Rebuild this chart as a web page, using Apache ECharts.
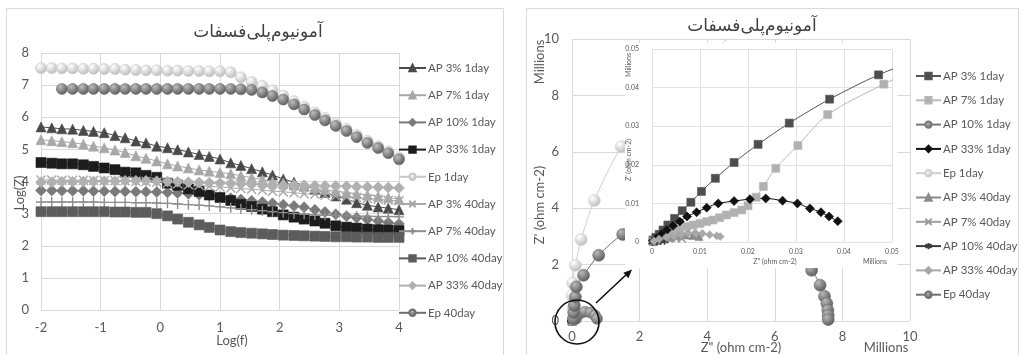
<!DOCTYPE html>
<html>
<head>
<meta charset="utf-8">
<script src="https://cdn.jsdelivr.net/npm/echarts/dist/echarts.min.js"></script>
<style>
  html, body { margin: 0; padding: 0; background: #fff; }
  #main { width: 1024px; height: 355px; }
</style>
</head>
<body>
<div id="main"></div>
<script>
// ---- left: Bode plot, Log(Z) against Log(f) ----
var logF = [-2, -1.82, -1.65, -1.47, -1.29, -1.12, -0.94, -0.76, -0.59, -0.41, -0.24, -0.06,
  0.12, 0.29, 0.47, 0.65, 0.82, 1.0, 1.18, 1.35, 1.53, 1.71, 1.88, 2.06, 2.24, 2.41, 2.59,
  2.76, 2.94, 3.12, 3.29, 3.47, 3.65, 3.82, 4.0];

var bodeAP3_1 = [5.70, 5.67, 5.64, 5.63, 5.59, 5.56, 5.52, 5.43, 5.36, 5.26, 5.20, 5.10, 5.05, 4.99, 4.92, 4.84, 4.78, 4.70,
  4.58, 4.50, 4.40, 4.30, 4.20, 4.08, 3.98, 3.87, 3.77, 3.66, 3.55, 3.45, 3.34, 3.26, 3.21, 3.17, 3.12];
var bodeAP7_1 = [5.30, 5.27, 5.24, 5.21, 5.16, 5.10, 5.05, 4.98, 4.90, 4.80, 4.72, 4.64, 4.55, 4.48, 4.42, 4.36, 4.32, 4.28,
  4.24, 4.18, 4.12, 4.06, 4.00, 3.95, 3.90, 3.85, 3.80, 3.75, 3.70, 3.66, 3.62, 3.58, 3.54, 3.50, 3.45];
var bodeAP10_1 = [3.72, 3.72, 3.71, 3.71, 3.71, 3.70, 3.70, 3.69, 3.69, 3.68, 3.68, 3.67, 3.66, 3.64, 3.62, 3.59, 3.56, 3.52,
  3.48, 3.44, 3.40, 3.36, 3.32, 3.28, 3.24, 3.20, 3.12, 3.05, 2.98, 2.92, 2.87, 2.82, 2.77, 2.72, 2.68];
var bodeAP33_1 = [4.59, 4.57, 4.55, 4.55, 4.52, 4.47, 4.42, 4.37, 4.29, 4.27, 4.19, 4.13, 3.95, 3.88, 3.77, 3.69, 3.58, 3.50,
  3.41, 3.29, 3.22, 3.14, 3.06, 2.96, 2.89, 2.83, 2.77, 2.70, 2.62, 2.58, 2.55, 2.52, 2.50, 2.49, 2.47];
var bodeEp_1 = [7.53, 7.53, 7.52, 7.52, 7.51, 7.51, 7.50, 7.50, 7.48, 7.47, 7.46, 7.46, 7.45, 7.45, 7.44, 7.44, 7.43, 7.43,
  7.40, 7.24, 7.10, 6.98, 6.84, 6.68, 6.50, 6.33, 6.15, 5.98, 5.80, 5.64, 5.45, 5.27, 5.10, 4.94, 4.75];
var bodeAP3_40 = [4.05, 4.05, 4.04, 4.04, 4.04, 4.03, 4.03, 4.02, 4.02, 4.01, 4.00, 3.98, 3.95, 3.93, 3.90, 3.88, 3.85, 3.83,
  3.80, 3.78, 3.76, 3.73, 3.70, 3.68, 3.65, 3.62, 3.60, 3.57, 3.55, 3.52, 3.50, 3.47, 3.45, 3.42, 3.40];
var bodeAP7_40 = [3.36, 3.36, 3.36, 3.36, 3.36, 3.36, 3.35, 3.35, 3.35, 3.34, 3.34, 3.33, 3.32, 3.30, 3.28, 3.26, 3.24, 3.21,
  3.18, 3.15, 3.12, 3.09, 3.06, 3.03, 3.00, 2.98, 2.96, 2.95, 2.94, 2.93, 2.92, 2.92, 2.91, 2.91, 2.90];
var bodeAP10_40 = [3.06, 3.06, 3.06, 3.06, 3.06, 3.06, 3.06, 3.05, 3.05, 3.04, 3.04, 3.00, 2.93, 2.83, 2.73, 2.65, 2.57, 2.49,
  2.44, 2.41, 2.39, 2.37, 2.35, 2.33, 2.32, 2.31, 2.30, 2.29, 2.28, 2.28, 2.27, 2.27, 2.26, 2.26, 2.26];
var bodeAP33_40 = [3.98, 3.98, 3.99, 3.99, 4.00, 4.00, 4.01, 4.01, 4.02, 4.02, 4.02, 4.01, 4.00, 3.99, 3.98, 3.97, 3.96, 3.95,
  3.94, 3.93, 3.92, 3.91, 3.90, 3.89, 3.88, 3.88, 3.87, 3.86, 3.86, 3.85, 3.84, 3.83, 3.82, 3.81, 3.80];
var bodeEp_40 = [null, null, 6.88, 6.88, 6.88, 6.88, 6.88, 6.88, 6.88, 6.88, 6.88, 6.88, 6.88, 6.88, 6.88, 6.88, 6.88, 6.88,
  6.88, 6.87, 6.85, 6.77, 6.66, 6.55, 6.40, 6.24, 6.07, 5.90, 5.73, 5.57, 5.38, 5.20, 5.04, 4.88, 4.69];

// ---- right: Nyquist plot, values in Millions [Z", Z'] ----
var nyqAP3_1 = [[0.0002, 0.0005], [0.0008, 0.0012], [0.0015, 0.002], [0.0023, 0.0031], [0.0033, 0.0044], [0.0047, 0.0061],
  [0.0063, 0.0081], [0.0081, 0.0103], [0.0103, 0.0131], [0.0132, 0.0165], [0.0171, 0.0206], [0.0221, 0.0253],
  [0.0286, 0.0308], [0.037, 0.037], [0.0472, 0.0433], [0.059, 0.049]];
var nyqAP7_1 = [[0.0006, 0.0003], [0.0016, 0.001], [0.003, 0.0018], [0.0044, 0.0027], [0.0058, 0.0033], [0.0072, 0.004],
  [0.0086, 0.0044], [0.01, 0.0048], [0.0114, 0.0053], [0.0127, 0.0057], [0.0141, 0.0063], [0.0155, 0.007],
  [0.0171, 0.0076], [0.0187, 0.0083], [0.02, 0.0094], [0.0217, 0.0116], [0.0232, 0.0144], [0.0258, 0.0191],
  [0.0304, 0.025], [0.0366, 0.033], [0.0483, 0.0409], [0.057, 0.046]];
var nyqAP10_1 = [[0.12, 0.08], [0.22, 0.25], [0.38, 0.33], [0.55, 0.3], [0.68, 0.2], [0.74, 0.08]];
var nyqAP33_1 = [[0.0002, 0.0003], [0.0009, 0.001], [0.002, 0.002], [0.0031, 0.0031], [0.0044, 0.0042], [0.0058, 0.0053],
  [0.0073, 0.0066], [0.0093, 0.0077], [0.0114, 0.0089], [0.0138, 0.01], [0.0171, 0.0106], [0.0204, 0.0111],
  [0.0237, 0.0113], [0.0272, 0.0107], [0.0303, 0.01], [0.0329, 0.0087], [0.0352, 0.0077], [0.0369, 0.0066],
  [0.0387, 0.0054]];
var nyqEp_1 = [[0.03, 0.45], [0.0, 0.9], [0.02, 1.35], [0.1, 1.98], [0.27, 2.89], [0.66, 4.27], [1.46, 6.18],
  [2.5, 7.8], [3.6, 9.0], [4.8, 10.2]];
var nyqAP3_40 = [[0.0003, 0.0001], [0.0012, 0.0004], [0.0025, 0.0008], [0.004, 0.0012], [0.0055, 0.0016],
  [0.007, 0.0018], [0.0085, 0.0017], [0.0098, 0.0014]];
var nyqAP7_40 = [[0.0002, 0.0001], [0.001, 0.0003], [0.002, 0.0006], [0.0035, 0.0009], [0.005, 0.001], [0.0062, 0.0009]];
var nyqAP10_40 = [[0.0001, 0.0], [0.0005, 0.0001], [0.001, 0.0002], [0.0018, 0.0003], [0.0026, 0.0003]];
var nyqAP33_40 = [[0.0004, 0.0002], [0.0015, 0.0007], [0.003, 0.0012], [0.0045, 0.0016], [0.006, 0.002],
  [0.0075, 0.0023], [0.009, 0.0024], [0.0105, 0.0022], [0.012, 0.0019], [0.0135, 0.0016], [0.0142, 0.0014]];
var nyqEp_40 = [[0.05, 0.08], [0.05, 0.3], [0.07, 0.55], [0.1, 0.85], [0.13, 1.21], [0.34, 1.62], [0.79, 2.33],
  [1.5, 3.07], [2.4, 3.55], [3.4, 3.8], [4.4, 3.75], [5.4, 3.35], [6.3, 2.65], [7.09, 1.8], [7.34, 1.27],
  [7.47, 0.88], [7.54, 0.62], [7.57, 0.38], [7.58, 0.2], [7.58, 0.05]];

var names = ['AP 3% 1day', 'AP 7% 1day', 'AP 10% 1day', 'AP 33% 1day', 'Ep 1day',
  'AP 3% 40day', 'AP 7% 40day', 'AP 10% 40day', 'AP 33% 40day', 'Ep 40day'];

var bodeData = [bodeAP3_1, bodeAP7_1, bodeAP10_1, bodeAP33_1, bodeEp_1,
  bodeAP3_40, bodeAP7_40, bodeAP10_40, bodeAP33_40, bodeEp_40];
var nyqData = [nyqAP3_1, nyqAP7_1, nyqAP10_1, nyqAP33_1, nyqEp_1,
  nyqAP3_40, nyqAP7_40, nyqAP10_40, nyqAP33_40, nyqEp_40];

var grey = '#595959';
var gridGrey = '#d9d9d9';
var font = 'Lato, "Open Sans", sans-serif';
var xMark = 'path://M0,0L10,10M10,0L0,10';
var plusMark = 'path://M5,0L5,10M0,5L10,5';
var starMark = 'path://M5,0L5,10M0,2.5L10,7.5M10,2.5L0,7.5';

function ball(light, dark) {
  return {
    type: 'radial', x: 0.35, y: 0.3, r: 0.8,
    colorStops: [{offset: 0, color: light}, {offset: 1, color: dark}]
  };
}

// marker look of each series, left and right
var bodeLook = [
  {sym: 'triangle', fill: '#4a4a4a', line: '#4a4a4a', size: 10},
  {sym: 'triangle', fill: '#a8a8a8', line: '#a8a8a8', size: 10},
  {sym: 'diamond', fill: '#7a7a7a', line: '#7a7a7a', size: 11},
  {sym: 'rect', fill: '#1c1c1c', line: '#1c1c1c', size: 10},
  {sym: 'circle', fill: ball('#ffffff', '#b4b4b4'), line: '#c8c8c8', size: 11},
  {sym: xMark, fill: 'none', line: '#a8a8a8', size: 9, stroke: true},
  {sym: plusMark, fill: 'none', line: '#8c8c8c', size: 10, stroke: true},
  {sym: 'rect', fill: '#5c5c5c', line: '#5c5c5c', size: 10},
  {sym: 'diamond', fill: '#b0b0b0', line: '#b0b0b0', size: 11},
  {sym: 'circle', fill: ball('#bdbdbd', '#4f4f4f'), line: '#6e6e6e', size: 11}
];
var nyqLook = [
  {sym: 'rect', fill: '#4d4d4d', line: '#555555', size: 8},
  {sym: 'rect', fill: '#b0b0b0', line: '#b8b8b8', size: 8},
  {sym: 'circle', fill: ball('#bdbdbd', '#555555'), line: '#777777', size: 11},
  {sym: 'diamond', fill: '#111111', line: '#111111', size: 9},
  {sym: 'circle', fill: ball('#ffffff', '#b4b4b4'), line: '#cfcfcf', size: 12},
  {sym: 'triangle', fill: '#8a8a8a', line: '#8a8a8a', size: 8},
  {sym: xMark, fill: 'none', line: '#9a9a9a', size: 8, stroke: true},
  {sym: starMark, fill: 'none', line: '#3a3a3a', size: 8, stroke: true},
  {sym: 'diamond', fill: '#a8a8a8', line: '#a8a8a8', size: 8},
  {sym: 'circle', fill: ball('#b8b8b8', '#505050'), line: '#707070', size: 12}
];

function makeSeries(name, data, look, xi, smooth, z, size) {
  return {
    name: name,
    type: 'line',
    xAxisIndex: xi,
    yAxisIndex: xi,
    data: data,
    z: z,
    smooth: smooth,
    symbol: look.sym,
    symbolSize: size || look.size,
    showAllSymbol: true,
    connectNulls: false,
    animation: false,
    lineStyle: {color: look.line, width: 1},
    itemStyle: look.stroke
      ? {color: look.line, borderColor: look.line, borderWidth: 1.4}
      : {color: look.fill, borderColor: look.line, borderWidth: 0.6}
  };
}

var series = [];
names.forEach(function (n, k) {
  var pts = logF.map(function (f, i) { return [f, bodeData[k][i]]; });
  series.push(makeSeries(n, pts, bodeLook[k], 0, false, 2));
});
// right names carry a trailing space so the two legends stay independent
names.forEach(function (n, k) {
  series.push(makeSeries(n + ' ', nyqData[k], nyqLook[k], 1, 0.3, 2));
});
names.forEach(function (n, k) {
  var lk = nyqLook[k];
  var sz = lk.sym === 'circle' ? 7 : lk.size;
  series.push(makeSeries(n + ' ', nyqData[k], lk, 2, 0.3, 5, sz));
});

function valAxis(idx, min, max, step, extra) {
  var a = {
    type: 'value', gridIndex: idx, min: min, max: max, interval: step,
    axisLine: {show: false}, axisTick: {show: false},
    splitLine: {show: true, lineStyle: {color: gridGrey, width: 1}},
    axisLabel: {color: grey, fontSize: 13, fontFamily: font}
  };
  for (var k in extra) a[k] = extra[k];
  return a;
}

function insetLabel(v) { return v === 0 ? '0' : v.toFixed(2); }

var titleFont = '17px "DejaVu Sans"';
var txt = function (x, y, text, size, rot, z) {
  return {
    type: 'text', x: x, y: y, rotation: rot || 0, z: z || 6,
    style: {text: text, fill: grey, fontSize: size, fontFamily: font, align: 'center', verticalAlign: 'middle'}
  };
};

var legendText = {color: grey, fontSize: 11.5, fontFamily: font, lineHeight: 13, padding: [0, 0, 0, -3]};

var option = {
  backgroundColor: '#ffffff',
  animation: false,
  grid: [
    {left: 41, top: 53, width: 358, height: 257},
    {left: 572, top: 39, width: 338, height: 282},
    {left: 652, top: 49, width: 240, height: 193, z: 4}
  ],
  xAxis: [
    valAxis(0, -2, 4, 1, {axisLabel: {color: grey, fontSize: 13, fontFamily: font, margin: 11}}),
    valAxis(1, 0, 10, 2, {axisLabel: {color: grey, fontSize: 13, fontFamily: font, margin: 9}}),
    valAxis(2, 0, 0.05, 0.01, {z: 4, splitLine: {lineStyle: {color: '#e2e2e2'}},
      axisLabel: {color: grey, fontSize: 7, fontFamily: font, margin: 6, formatter: insetLabel}})
  ],
  yAxis: [
    valAxis(0, 0, 8, 1, {axisLabel: {color: grey, fontSize: 13, fontFamily: font, margin: 12}}),
    valAxis(1, 0, 10, 2, {axisLabel: {color: grey, fontSize: 13, fontFamily: font, margin: 13}}),
    valAxis(2, 0, 0.05, 0.01, {z: 4, splitLine: {lineStyle: {color: '#e2e2e2'}},
      axisLabel: {color: grey, fontSize: 7, fontFamily: font, margin: 13, formatter: insetLabel}})
  ],
  legend: [
    {
      data: names, orient: 'vertical', left: 398, top: 61.5, padding: 0,
      itemWidth: 27, itemHeight: 8, itemGap: 14.2, selectedMode: false,
      textStyle: legendText
    },
    {
      data: names.map(function (n) { return n + ' '; }), orient: 'vertical', left: 915, top: 69.5, padding: 0,
      itemWidth: 25, itemHeight: 8, itemGap: 11.3, selectedMode: false,
      formatter: function (n) { return n.trim(); },
      textStyle: legendText
    }
  ],
  graphic: [
    {type: 'rect', z: 0, shape: {x: 6.5, y: 8.5, width: 497, height: 360}, style: {fill: 'none', stroke: gridGrey}},
    {type: 'rect', z: 0, shape: {x: 526.5, y: 8.5, width: 492, height: 360}, style: {fill: 'none', stroke: gridGrey}},
    {type: 'rect', z: 3, shape: {x: 625, y: 43, width: 272, height: 225}, style: {fill: '#ffffff'}},
    {type: 'text', x: 258, y: 33, z: 6, style: {text: 'آمونیوم‌پلی‌فسفات', fill: '#404040', font: titleFont, align: 'center', verticalAlign: 'middle'}},
    {type: 'text', x: 752, y: 27, z: 6, style: {text: 'آمونیوم‌پلی‌فسفات', fill: '#404040', font: titleFont, align: 'center', verticalAlign: 'middle'}},
    txt(20, 193, 'Log(Z)', 13, Math.PI / 2),
    txt(232, 341, 'Log(f)', 13),
    txt(540, 62, 'Millions', 13, Math.PI / 2),
    txt(540, 205, "Z' (ohm cm-2)", 13, Math.PI / 2),
    txt(741, 348, 'Z" (ohm cm-2)', 13),
    txt(886, 348, 'Millions', 13),
    txt(629, 65, 'Millions', 7, Math.PI / 2),
    txt(629, 160, "Z' (ohm cm-2)", 7, Math.PI / 2),
    txt(775, 262, 'Z" (ohm cm-2)', 7),
    txt(875, 262, 'Millions', 7),
    {type: 'circle', z: 7, shape: {cx: 577, cy: 322, r: 22}, style: {fill: 'none', stroke: '#111', lineWidth: 1.6}},
    {type: 'line', z: 7, shape: {x1: 596, y1: 303, x2: 628, y2: 273}, style: {stroke: '#111', lineWidth: 1.6}},
    {type: 'polygon', z: 7, shape: {points: [[632, 269.5], [628.4, 278.2], [623.4, 272.8]]}, style: {fill: '#111'}}
  ],
  series: series
};

var chart = echarts.init(document.getElementById('main'));
if (option) {
  chart.setOption(option);
}
</script>
</body>
</html>
